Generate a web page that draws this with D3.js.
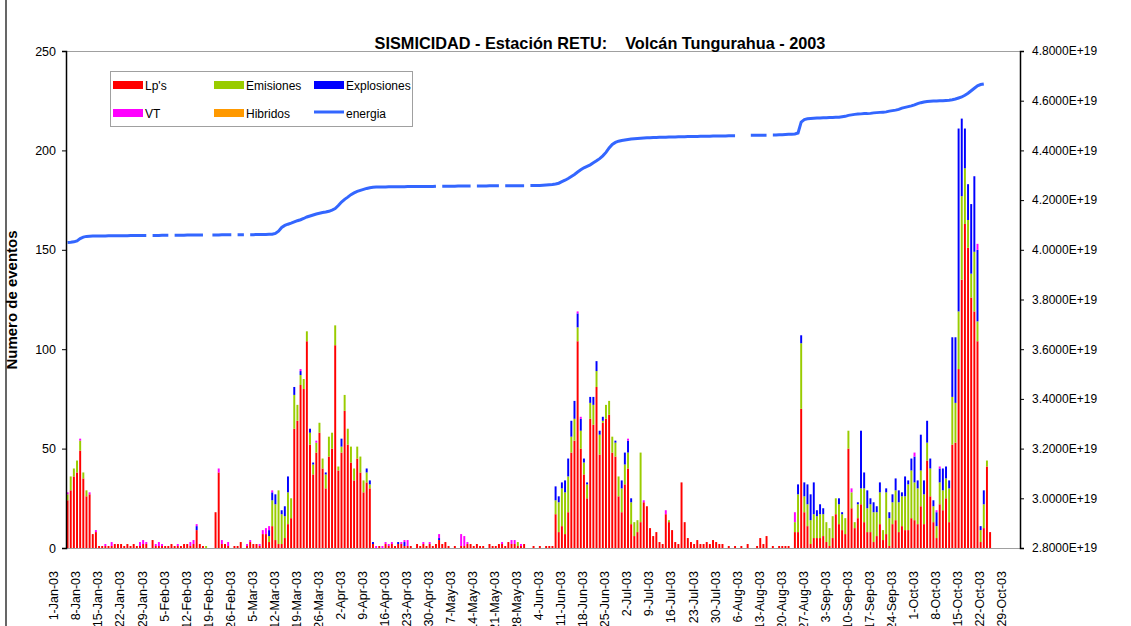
<!DOCTYPE html>
<html><head><meta charset="utf-8">
<script src="https://cdn.jsdelivr.net/npm/d3@7"></script>
<style>
body{margin:0;background:#fff;}
svg{display:block;font-family:"Liberation Sans",Arial,sans-serif;}
</style>
</head><body>
<svg id="chart" width="1131" height="626"></svg>
<script>
// ---------- DATA (daily, 1-Jan-2003 .. 30-Oct-2003, one row per month) ----------
const lps = [
 [24,29,36,38,49,35,26,27,7,8, 1,1,1,1,1,2,2,2,1,2, 1,2,1,1,2,2,0,4,1,1, 1],
 [1,1,2,1,1,1,2,2,1,2, 9,2,1,0,0,0,18,38,2,2, 1,0,1,1,3,0,1,3],
 [2,2,1,7,7,3,11,4,2,2, 5,12,15,60,64,82,80,104,52,37, 48,58,40,30,46,50,102,39,48,69, 52],
 [43,34,45,38,28,33,30,2,0,1, 0,2,1,2,1,2,2,1,1,1, 0,2,1,2,1,2,1,2,4,2],
 [3,1,0,1,0,1,1,2,2,1, 2,1,1,0,2,1,1,2,2,1, 3,2,2,1,1,2,0,0,1,0, 1],
 [0,1,1,1,17,8,11,7,18,48, 54,104,50,37,25,65,62,81,47,63, 65,67,48,46,26,18,32,40,12,6],
 [8,13,23,21,10,6,8,3,2,17, 13,9,3,2,33,13,5,3,2,4, 2,2,3,2,4,3,2,2,0,1, 0],
 [1,0,1,0,2,0,0,1,5,2, 6,0,1,0,1,1,1,1,0,8, 8,70,18,11,2,5,5,5,6,3, 1],
 [5,17,12,9,7,50,20,10,15,22, 13,8,8,3,6,12,4,7,1,12, 14,8,11,9,9,15,14,12,21,12],
 [44,26,13,5,22,19,25,13,52,53, 90,135,163,151,126,119,104,3,10,41, 8,0,0,0,0,0,0,0,0,0]
];
const emisiones = [
 [3,7,4,6,5,3,3,0,0,0, 0,0,0,0,0,0,0,0,0,0, 0,0,0,0,0,0,0,0,0,0, 0],
 [0,0,0,0,0,0,0,0,0,0, 0,0,0,1,0,0,0,0,0,0, 0,0,0,0,0,0,0,0],
 [0,0,0,0,0,3,13,18,27,15, 11,16,10,17,8,5,5,5,6,5, 5,5,5,7,10,8,10,2,3,8, 8],
 [8,6,6,8,6,5,2,0,0,0, 0,0,0,0,0,0,0,0,0,0, 0,0,0,0,0,0,0,0,0,0],
 [0,0,0,0,0,0,0,0,0,0, 0,0,0,0,0,0,0,0,0,0, 0,0,0,2,0,0,0,0,0,0, 0],
 [0,0,0,0,7,15,19,21,18,8, 11,7,9,6,7,8,10,8,10,1, 7,7,8,7,10,12,10,8,11,7],
 [6,35,0,0,0,0,0,0,0,0, 1,0,0,0,0,0,0,0,0,0, 0,0,0,0,0,0,0,0,0,0, 0],
 [0,0,0,0,0,0,0,0,0,0, 0,0,0,0,0,0,0,0,0,5, 19,33,8,11,12,12,11,12,11,10, 9],
 [11,8,10,8,8,9,8,3,7,8, 17,12,14,15,12,16,5,21,14,11, 15,15,15,17,23,24,19,18,18,15],
 [9,14,8,6,11,10,10,17,24,20, 29,42,28,14,12,30,10,6,12,3, 0,0,0,0,0,0,0,0,0,0]
];
const explosiones = [
 [0,0,0,0,0,0,0,0,0,0, 0,0,0,0,0,0,0,0,0,0, 0,0,0,0,0,0,0,0,0,0, 0],
 [0,0,0,0,0,0,0,0,0,0, 2,0,0,0,0,0,0,0,0,0, 0,0,0,0,0,0,0,0],
 [0,0,0,0,0,3,4,5,0,2, 5,8,0,4,0,2,0,0,2,1, 0,0,0,1,0,0,0,0,4,0, 0],
 [0,0,0,0,0,2,2,1,0,0, 0,0,0,0,0,1,0,2,0,0, 0,0,0,0,0,0,0,0,1,0],
 [0,0,0,0,0,0,0,0,0,0, 0,0,0,0,0,0,0,0,0,0, 0,0,0,0,0,0,0,0,0,0, 0],
 [0,0,0,0,7,3,3,6,9,8, 9,7,6,2,1,3,4,5,2,2, 0,0,0,1,0,4,6,6,2,0],
 [0,0,0,0,0,0,0,0,0,0, 0,0,0,0,0,0,0,0,0,0, 0,0,0,0,0,0,0,0,0,0, 0],
 [0,0,0,0,0,0,0,0,0,0, 0,0,0,0,0,0,0,0,0,0, 5,4,7,10,13,16,3,5,3,0, 0],
 [0,0,3,1,0,0,0,0,1,29, 8,9,3,5,3,5,0,2,3,4, 6,6,2,10,2,6,13,4,18,7],
 [11,5,3,7,7,11,6,4,30,33, 92,39,20,18,35,38,36,2,7,0, 0,0,0,0,0,0,0,0,0,0]
];
const vt = [
 [1,0,0,0,1,0,0,1,0,1, 0,0,1,0,2,0,0,0,0,0, 0,0,0,2,2,1,0,0,1,2, 1],
 [0,0,0,0,1,0,0,0,2,2, 1,0,0,0,0,0,0,2,2,0, 2,0,0,0,0,0,1,1],
 [0,0,1,2,3,2,1,0,0,0, 0,0,0,0,0,1,0,0,0,0, 1,0,0,0,0,0,0,0,0,0, 0],
 [0,0,0,0,0,0,0,0,1,0, 1,1,1,1,0,0,1,1,3,0, 0,0,0,1,0,1,0,0,2,0],
 [0,0,0,0,0,6,5,1,0,0, 0,0,0,0,0,0,0,0,1,0, 0,2,2,0,1,0,0,0,0,0, 0],
 [0,0,0,0,0,0,0,0,0,0, 0,1,1,0,0,0,0,0,0,0, 0,0,0,0,0,0,0,1,0,0],
 [0,0,1,0,0,0,0,0,0,2, 0,0,0,0,0,0,0,0,0,0, 0,0,0,0,0,0,0,0,0,0, 0],
 [0,0,0,0,0,0,0,0,0,0, 0,0,0,0,0,0,0,0,0,5, 0,0,0,0,0,0,0,0,0,0, 0],
 [0,0,0,0,0,0,2,0,0,0, 0,0,0,0,0,0,0,0,0,0, 0,0,0,0,0,0,2,0,0,0],
 [0,0,0,1,1,0,0,0,0,0, 0,0,0,0,0,0,3,0,0,0, 0,0,0,0,0,0,0,0,0,0]
];
const hibridos = []; // no hybrid events visible
const energia = [
 [4.029,4.030,4.032,4.036,4.045,4.051,4.054,4.055,4.056,4.056, 4.056,4.056,4.056,4.057,4.057,4.057,4.057,4.057,4.057,4.057, 4.058,4.058,4.058,4.058,4.058,4.058,null,4.058,4.058,4.058, 4.059],
 [4.059,4.059,null,4.059,4.059,4.059,4.059,4.060,4.060,4.060, 4.060,4.060,4.060,null,null,4.060,4.060,4.060,4.061,4.061, 4.061,4.061,null,4.061,4.061,4.061,null,4.061],
 [4.061,4.062,4.062,4.062,4.062,4.063,4.063,4.066,4.075,4.090, 4.098,4.103,4.107,4.112,4.117,4.121,4.126,4.132,4.136,4.140, 4.144,4.147,4.150,4.152,4.155,4.160,4.166,4.178,4.192,4.203, 4.212],
 [4.222,4.229,4.235,4.239,4.243,4.247,4.250,4.252,4.253,4.253, 4.253,4.253,4.254,4.254,4.254,4.254,4.254,4.254,4.255,4.255, 4.255,4.255,4.255,4.255,4.255,4.255,4.255,4.256,null,4.256],
 [4.256,4.256,4.256,4.256,4.257,4.257,4.257,4.257,4.257,null, 4.257,4.257,4.257,4.257,4.258,4.258,4.258,4.258,null,4.258, 4.258,4.258,4.258,4.258,4.258,4.258,null,4.259,4.259,4.259, 4.259],
 [4.260,4.261,4.262,4.263,4.265,4.268,4.274,4.280,4.287,4.295, 4.303,4.313,4.322,4.330,4.336,4.342,4.350,4.358,4.367,4.378, 4.392,4.410,4.424,4.432,4.437,4.440,4.442,4.444,4.446,4.447],
 [4.448,4.449,4.450,4.451,4.451,4.452,4.452,4.453,4.453,4.453, 4.454,4.454,4.454,4.455,4.455,4.455,4.456,4.456,4.456,4.456, 4.457,4.457,4.457,4.457,4.458,4.458,4.458,4.458,4.458,4.459, 4.459],
 [4.459,null,null,null,null,4.461,4.461,4.461,4.461,4.461, 4.461,null,4.462,4.462,4.463,4.463,4.464,4.465,4.465,4.466, 4.470,4.514,4.524,4.527,4.528,4.529,4.530,4.530,4.531,4.531, 4.532],
 [4.532,4.533,4.533,4.535,4.537,4.541,4.543,4.545,4.546,4.547, 4.548,4.548,4.549,4.551,4.552,4.553,4.554,4.555,4.558,4.560, 4.562,4.565,4.570,4.573,4.576,4.579,4.583,4.588,4.592,4.595],
 [4.597,4.598,4.599,4.599,4.600,4.600,4.601,4.602,4.604,4.607, 4.611,4.615,4.622,4.630,4.640,4.650,4.660,4.665,4.667,null, null,null,null,null,null,null,null,null,null,null]
]; // x 1e19

const tickLabels = ["1-Jan-03","8-Jan-03","15-Jan-03","22-Jan-03","29-Jan-03","5-Feb-03","12-Feb-03","19-Feb-03","26-Feb-03","5-Mar-03","12-Mar-03","19-Mar-03","26-Mar-03","2-Apr-03","9-Apr-03","16-Apr-03","23-Apr-03","30-Apr-03","7-May-03","14-May-03","21-May-03","28-May-03","4-Jun-03","11-Jun-03","18-Jun-03","25-Jun-03","2-Jul-03","9-Jul-03","16-Jul-03","23-Jul-03","30-Jul-03","6-Aug-03","13-Aug-03","20-Aug-03","27-Aug-03","3-Sep-03","10-Sep-03","17-Sep-03","24-Sep-03","1-Oct-03","8-Oct-03","15-Oct-03","22-Oct-03","29-Oct-03"];
const leftTicks = [0,50,100,150,200,250];
const rightTicks = [2.8,3.0,3.2,3.4,3.6,3.8,4.0,4.2,4.4,4.6,4.8]; // x 1e19

const seriesNames = ["Lp's","Emisiones","Explosiones","VT","Hibridos"];
const seriesColors = ["#FF0000","#99CC00","#0000FF","#FF00FF","#FF9900"];

// ---------- BUILD ----------
const cols = [lps, emisiones, explosiones, vt].map(m => m.flat());
const energy = energia.flat();
const nDays = cols[0].length;
const rows = d3.range(nDays).map(i => ({
  i,
  "Lp's": cols[0][i], "Emisiones": cols[1][i], "Explosiones": cols[2][i],
  "VT": cols[3][i], "Hibridos": hibridos[i] || 0
}));

const L = 66, R = 1020, T = 51, B = 548;
const svg = d3.select("#chart");

const x = d3.scaleBand().domain(d3.range(nDays)).range([L, R]).padding(0);
const step = x.step();
const cx = i => x(i) + step / 2;
const y = d3.scaleLinear().domain([0, 250]).range([B, T]);
const y2 = d3.scaleLinear().domain([2.8, 4.8]).range([B, T]);

// outer chart border line
svg.append("line").attr("x1",6).attr("x2",6).attr("y1",0).attr("y2",626).attr("stroke","#000").attr("stroke-width",1.2);

// plot border (top)
svg.append("line").attr("x1",L).attr("x2",R).attr("y1",T+0.5).attr("y2",T+0.5).attr("stroke","#a0a0a0");

// bars
const stack = d3.stack().keys(seriesNames)(rows);
const barW = step * 0.62;
svg.append("g").selectAll("g").data(stack).join("g")
  .attr("fill", (d, k) => seriesColors[k])
  .selectAll("rect").data(d => d.filter(s => s[1] - s[0] > 0)).join("rect")
  .attr("x", s => cx(s.data.i) - barW / 2)
  .attr("width", barW)
  .attr("y", s => y(s[1]))
  .attr("height", s => y(s[0]) - y(s[1]));

// x axis line
svg.append("line").attr("x1",L).attr("x2",R).attr("y1",B+0.5).attr("y2",B+0.5).attr("stroke","#a0a0a0");

// energy line
const line = d3.line().defined(d => d != null).x((d, i) => cx(i)).y(d => y2(d));
svg.append("path").datum(energy).attr("d", line)
  .attr("fill","none").attr("stroke","#3366FF").attr("stroke-width",3);

// left axis
const gl = svg.append("g").attr("transform",`translate(${L},0)`)
  .call(d3.axisLeft(y).tickValues(leftTicks).tickSize(4).tickPadding(6).tickFormat(d3.format("d")));
gl.select(".domain").attr("stroke","#000").attr("stroke-width",1.5);
gl.selectAll("text").attr("font-size","12.5px").attr("font-family","Liberation Sans, Arial, sans-serif").attr("fill","#000");

// right axis
const gr = svg.append("g").attr("transform",`translate(${R},0)`)
  .call(d3.axisRight(y2).tickValues(rightTicks).tickSize(4).tickPadding(8).tickFormat(d => d.toFixed(4) + "E+19"));
gr.select(".domain").attr("stroke","#000").attr("stroke-width",1.5);
gr.selectAll("text").attr("font-size","12px").attr("font-family","Liberation Sans, Arial, sans-serif").attr("fill","#000");

// x labels (weekly)
svg.append("g").selectAll("text").data(tickLabels).join("text")
  .attr("transform", (d, k) => `translate(${cx(k * 7) - 12.5},571) rotate(-90)`)
  .attr("text-anchor","end").attr("dominant-baseline","middle")
  .attr("font-size","12.5px").attr("fill","#000").text(d => d);

// title
svg.append("text").attr("x",600).attr("y",49).attr("text-anchor","middle")
  .attr("font-size","16.3px").attr("font-weight","bold").attr("xml:space","preserve")
  .style("white-space","pre")
  .text("SISMICIDAD - Estación RETU:    Volcán Tungurahua - 2003");

// y label
svg.append("text").attr("transform","translate(17,300) rotate(-90)").attr("text-anchor","middle")
  .attr("font-size","15px").attr("font-weight","bold").text("Numero de eventos");

// legend
const lg = svg.append("g");
lg.append("rect").attr("x",110.5).attr("y",71.5).attr("width",302).attr("height",55)
  .attr("fill","#fff").attr("stroke","#a0a0a0");
const legendItems = [
  {name:"Lp's", color:seriesColors[0], col:0, row:0},
  {name:"Emisiones", color:seriesColors[1], col:1, row:0},
  {name:"Explosiones", color:seriesColors[2], col:2, row:0},
  {name:"VT", color:seriesColors[3], col:0, row:1},
  {name:"Hibridos", color:seriesColors[4], col:1, row:1},
  {name:"energia", color:"#3366FF", col:2, row:1, line:true}
];
const colX = [113, 214, 314], rowY = [81, 109];
legendItems.forEach(it => {
  const gx = colX[it.col], gy = rowY[it.row];
  if (it.line) {
    lg.append("line").attr("x1",gx).attr("x2",gx+30).attr("y1",gy+3).attr("y2",gy+3)
      .attr("stroke",it.color).attr("stroke-width",3);
  } else {
    lg.append("rect").attr("x",gx).attr("y",gy).attr("width",30).attr("height",8).attr("fill",it.color);
  }
  lg.append("text").attr("x",gx+32).attr("y",gy+8.5).attr("font-size","12px").attr("fill","#000").text(it.name);
});
</script>
</body></html>
